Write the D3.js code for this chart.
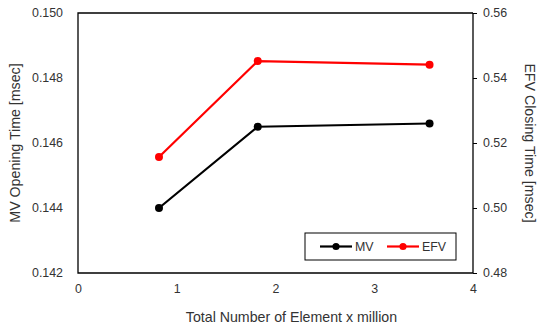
<!DOCTYPE html>
<html>
<head>
<meta charset="utf-8">
<script src="https://d3js.org/d3.v7.min.js"></script>
<style>
body { margin: 0; background: #fff; font-family: Arial, 'Liberation Sans', sans-serif; }
text { fill: #333; }
</style>
</head>
<body>
<svg></svg>
<script>
    // data
    var xValues = [0.82, 1.82, 3.56];
    var mvValues = [0.1440, 0.1465, 0.1466];
    var efvValues = [0.5157, 0.5452, 0.5441];
    var xTicks = [0, 1, 2, 3, 4];
    var mvTicks = [0.142, 0.144, 0.146, 0.148, 0.150];
    var efvTicks = [0.48, 0.50, 0.52, 0.54, 0.56];

    var width = 541, height = 327;
    var m = { left: 78, right: 68, top: 13, bottom: 54 };

    var svg = d3.select('svg').attr('width', width).attr('height', height);

    var x = d3.scaleLinear().domain([0, 4]).range([m.left, width - m.right]);
    var yL = d3.scaleLinear().domain([0.142, 0.150]).range([height - m.bottom, m.top]);
    var yR = d3.scaleLinear().domain([0.48, 0.56]).range([height - m.bottom, m.top]);

    // frame lines (left, bottom, top); right comes from the right axis
    svg.append('path')
        .attr('d', 'M' + x(4) + ',' + yL(0.150) + 'H' + x(0) + 'V' + yL(0.142) + 'H' + x(4))
        .attr('fill', 'none').attr('stroke', '#000').attr('stroke-width', 1.3);

    // bottom axis labels
    var gx = svg.append('g')
        .attr('transform', 'translate(0,' + yL(0.142) + ')')
        .call(d3.axisBottom(x).tickValues(xTicks).tickFormat(d3.format('d')).tickSize(0).tickPadding(11));
    gx.select('.domain').remove();

    var gl = svg.append('g')
        .attr('transform', 'translate(' + x(0) + ',0)')
        .call(d3.axisLeft(yL).tickValues(mvTicks).tickFormat(d3.format('.3f')).tickSize(0).tickPadding(15));
    gl.select('.domain').remove();

    var gr = svg.append('g')
        .attr('transform', 'translate(' + x(4) + ',0)')
        .call(d3.axisRight(yR).tickValues(efvTicks).tickFormat(d3.format('.2f')).tickSize(4).tickPadding(6));
    gr.select('.domain').attr('stroke-width', 1.3).attr('d', 'M0,' + yR(0.56) + 'V' + yR(0.48));

    svg.selectAll('.tick text').style('font-size', '12.4px').style('fill', '#333')
        .style('font-family', "Arial, 'Liberation Sans', sans-serif");

    // series
    var line = d3.line();
    function drawSeries(ys, scale, color) {
        var pts = xValues.map(function (d, i) { return [x(d), scale(ys[i])]; });
        svg.append('path').attr('d', line(pts))
            .attr('fill', 'none').attr('stroke', color).attr('stroke-width', 2.2);
        svg.selectAll(null).data(pts).enter().append('circle')
            .attr('cx', function (d) { return d[0]; })
            .attr('cy', function (d) { return d[1]; })
            .attr('r', 4).attr('fill', color);
    }
    drawSeries(mvValues, yL, '#000');
    drawSeries(efvValues, yR, '#ff0000');

    // axis titles
    var midY = m.top + (height - m.bottom - m.top) / 2;
    svg.append('text')
        .attr('transform', 'translate(20,' + midY + ')rotate(-90)')
        .attr('text-anchor', 'middle').style('font-size', '14.2px')
        .text('MV Opening Time [msec]');
    svg.append('text')
        .attr('transform', 'translate(525,' + midY + ')rotate(90)')
        .attr('text-anchor', 'middle').style('font-size', '14.2px')
        .text('EFV Closing Time [msec]');
    svg.append('text')
        .attr('x', (x(0) + x(4)) / 2 + 16).attr('y', 322)
        .attr('text-anchor', 'middle').style('font-size', '14.2px')
        .text('Total Number of Element x million');

    // legend
    var lg = svg.append('g').attr('transform', 'translate(305,233)');
    lg.append('rect').attr('width', 151).attr('height', 27)
        .attr('fill', '#fff').attr('stroke', '#000').attr('stroke-width', 1);
    var items = [{ name: 'MV', color: '#000', x: 15 }, { name: 'EFV', color: '#ff0000', x: 82 }];
    items.forEach(function (it) {
        lg.append('line').attr('x1', it.x).attr('x2', it.x + 32).attr('y1', 13.5).attr('y2', 13.5)
            .attr('stroke', it.color).attr('stroke-width', 2.2);
        lg.append('circle').attr('cx', it.x + 16).attr('cy', 13.5).attr('r', 3.6).attr('fill', it.color);
        lg.append('text').attr('x', it.x + 35).attr('y', 18).style('font-size', '12.4px').text(it.name);
    });
</script>
</body>
</html>
